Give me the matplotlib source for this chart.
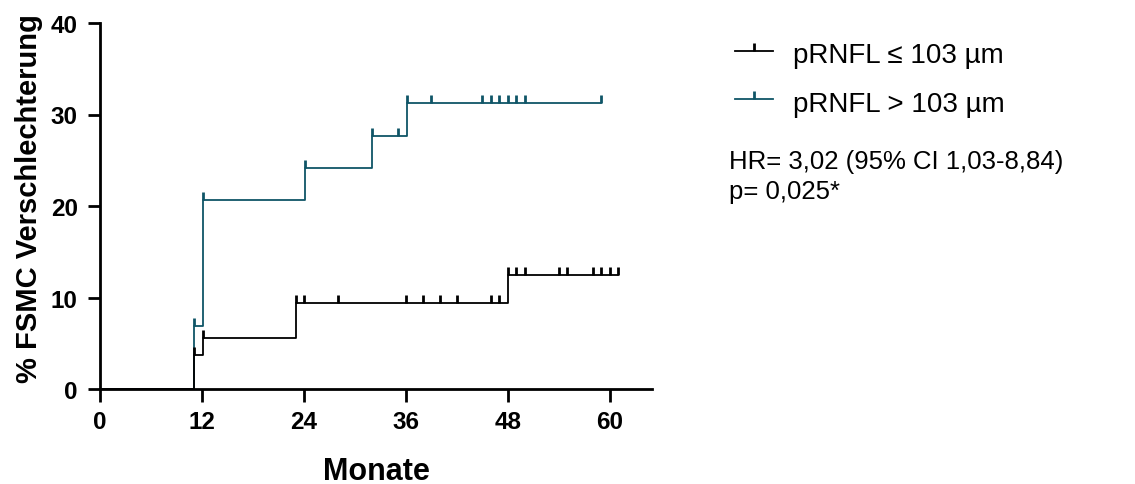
import numpy as np
import matplotlib
matplotlib.use("Agg")
import matplotlib.pyplot as plt
from matplotlib.path import Path
from matplotlib.lines import Line2D

plt.rcParams['font.family'] = ['Liberation Sans', 'DejaVu Sans']

# cumulative worsening (%) per group, step times in months
low_times = [0, 11.1, 12.1, 23.05, 48.0, 61.0]
low_values = [0, 3.7, 5.6, 9.4, 12.5, 12.5]
low_cens_t = [11.1, 12.1, 23.05, 24, 28, 36, 38, 40, 42, 46, 47,
              48, 49, 50, 54, 55, 58, 59, 60, 61]
low_cens_v = [3.7, 5.6] + [9.4] * 9 + [12.5] * 9

high_times = [0, 11.1, 12.1, 24.1, 32.05, 36.1, 59.0]
high_values = [0, 6.9, 20.7, 24.1, 27.6, 31.3, 31.3]
high_cens_t = [11.1, 12.1, 24.1, 32.05, 35.05, 36.1, 39, 45, 46, 47, 48, 49, 50, 59]
high_cens_v = [6.9, 20.7, 24.1, 27.6, 27.6] + [31.3] * 9

labels = ['pRNFL \u2264 103 \u00b5m', 'pRNFL > 103 \u00b5m']
colors = ['#000000', '#0f5567']
stats_lines = ['HR= 3,02 (95% CI 1,03-8,84)', 'p= 0,025*']

W, H = 1135, 485

# censor mark: short stroke pointing up from the curve
tick = Path([(0, 0), (0, 1)], [Path.MOVETO, Path.LINETO])

fig = plt.figure(figsize=(W / 100, H / 100), dpi=100)
ax = fig.add_axes([100 / W, 1 - 390 / H, 552 / W, 366 / H])

for t, v, ct, cv, c in [(high_times, high_values, high_cens_t, high_cens_v, colors[1]),
                        (low_times, low_values, low_cens_t, low_cens_v, colors[0])]:
    ax.step(t, v, where='post', color=c, lw=1.3)
    ax.plot(ct, cv, ls='none', marker=tick, markersize=11, mec=c, mew=2.0)

ax.set_xlim(0, 65)
ax.set_ylim(0, 40)
ax.set_xticks([0, 12, 24, 36, 48, 60])
ax.set_yticks([0, 10, 20, 30, 40])
for s in ['top', 'right']:
    ax.spines[s].set_visible(False)
for s in ['left', 'bottom']:
    ax.spines[s].set_linewidth(2.0)
    ax.spines[s].set_clip_on(False)
ax.tick_params(length=9, width=2.0, labelsize=17.5)
ax.tick_params(axis='x', pad=6)
ax.tick_params(axis='y', pad=7)
for lb in ax.get_xticklabels() + ax.get_yticklabels():
    lb.set_fontweight('bold')

ax.set_xlabel('Monate', fontsize=22, fontweight='bold', va='baseline')
ax.xaxis.set_label_coords(0.5, -0.246)
ax.set_ylabel('% FSMC Verschlechterung', fontsize=21, fontweight='bold')
ax.yaxis.set_label_coords(-0.104, 0.523)

# legend drawn by hand: short line with a censor stroke in the middle
for i, (lab, c) in enumerate(zip(labels, colors)):
    y_line = 1 - (51.7 + 48.3 * i) / H
    fig.add_artist(Line2D([735 / W, 754 / W, 773 / W], [y_line] * 3,
                          color=c, lw=1.3, marker=tick, markersize=11, mew=2.0,
                          markevery=[1], transform=fig.transFigure))
    fig.text(793 / W, 1 - (63.3 + 48.4 * i) / H, lab, fontsize=20,
             va='baseline', ha='left')

fig.text(729 / W, 1 - 169.0 / H, stats_lines[0], fontsize=18.5, va='baseline')
fig.text(729 / W, 1 - 199.0 / H, stats_lines[1], fontsize=18.5, va='baseline')

fig.savefig('out.png', dpi=100)
